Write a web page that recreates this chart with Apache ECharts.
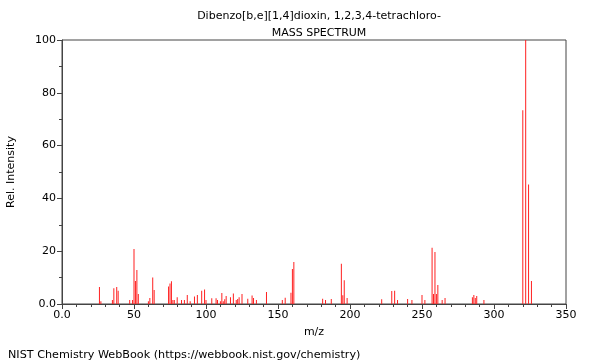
<!DOCTYPE html>
<html>
<head>
<meta charset="utf-8">
<script src="https://cdn.jsdelivr.net/npm/echarts@6/dist/echarts.min.js"></script>
<style>html,body{margin:0;padding:0;background:#fff}#c{width:600px;height:360px}</style>
</head>
<body>
<div id="c"></div>
<script>
var mz = [26,27,35,36,38,39,47,49,50,51,52,53,60,61,63,64,74,75,76,77,78,80,83,85,87,89,92,94,97,99,100,104,107,108,110,111,112,113,114,117,119,121,122,123,125,129,132,133,135,142,153,155,159,160,161,181,183,187,194,195,196,198,222,229,231,233,240,243,250,252,257,258,259,260,261,264,266,285,286,287,288,293,320,322,324,326];
var intensity = [6.4,1,1.5,6,6.4,5,1.5,1.5,20.8,8.7,12.9,3.8,1,2.3,10,5.3,6.6,7.8,8.6,1.5,1.5,2.6,1.5,1.5,3.4,1,2.8,3.4,5,5.5,1.5,2.2,2.2,1.5,1,4.2,1,1.8,3,2.6,4,1.5,1.9,2.6,3.8,2,3.2,2.3,1.5,4.5,1.5,2.4,4.3,13.3,15.9,2,1.5,1.9,15.2,3.3,9,2.3,1.8,4.9,5,1.5,1.9,1.5,3.4,1.5,21.3,3.8,19.7,3.8,7.2,1.5,2.3,2.6,3.4,2.3,3,1.5,73.4,100,45.3,8.7];
var xTicks = [0,50,100,150,200,250,300,350];
var yTicks = [0,20,40,60,80,100];

var data = mz.map(function(m,i){return [m,intensity[i]];});
var font = 'DejaVu Sans';
var chart = echarts.init(document.getElementById('c'), null, {renderer:'canvas'});
chart.setOption({
  animation:false,
  textStyle:{fontFamily:font},
  title:[
    {text:'Dibenzo[b,e][1,4]dioxin, 1,2,3,4-tetrachloro-', left:314, top:6, textAlign:'center',
     textStyle:{fontFamily:font,fontSize:11,fontWeight:'normal',color:'#000'}},
    {text:'MASS SPECTRUM', left:314, top:23, textAlign:'center',
     textStyle:{fontFamily:font,fontSize:11,fontWeight:'normal',color:'#000'}},
    {text:'NIST Chemistry WebBook (https://webbook.nist.gov/chemistry)', left:3, top:345,
     textStyle:{fontFamily:font,fontSize:11.2,fontWeight:'normal',color:'#000'}}
  ],
  grid:{left:62, right:34, top:40, bottom:56, show:true, borderColor:'#444', borderWidth:1,
    containLabel:false, outerBoundsMode:'none'},
  xAxis:{type:'value', min:xTicks[0], max:xTicks[xTicks.length-1], interval:50,
    name:'m/z', nameLocation:'middle', nameGap:23,
    nameTextStyle:{fontFamily:font,fontSize:11,color:'#000'},
    axisLine:{show:true,lineStyle:{color:'#444'}},
    axisTick:{show:true,length:5,lineStyle:{color:'#444'}},
    minorTick:{show:true,splitNumber:5,length:3,lineStyle:{color:'#444'}},
    splitLine:{show:false},
    axisLabel:{fontFamily:font,fontSize:11,color:'#000',margin:6,
      formatter:function(v){return v===0?'0.0':String(v);}}
  },
  yAxis:{type:'value', min:yTicks[0], max:yTicks[yTicks.length-1], interval:20,
    name:'Rel. Intensity', nameLocation:'middle', nameGap:45, nameRotate:90,
    nameTextStyle:{fontFamily:font,fontSize:11,color:'#000'},
    axisLine:{show:true,lineStyle:{color:'#444'}},
    axisTick:{show:true,length:5,lineStyle:{color:'#444'}},
    minorTick:{show:true,splitNumber:2,length:3,lineStyle:{color:'#444'}},
    splitLine:{show:false},
    axisLabel:{fontFamily:font,fontSize:11,color:'#000',margin:6,
      formatter:function(v){return v===0?'0.0':String(v);}}
  },
  series:[{type:'bar', data:data, barWidth:1, itemStyle:{color:'#ff2020'}, barGap:'-100%'}]
});
</script>
</body>
</html>
